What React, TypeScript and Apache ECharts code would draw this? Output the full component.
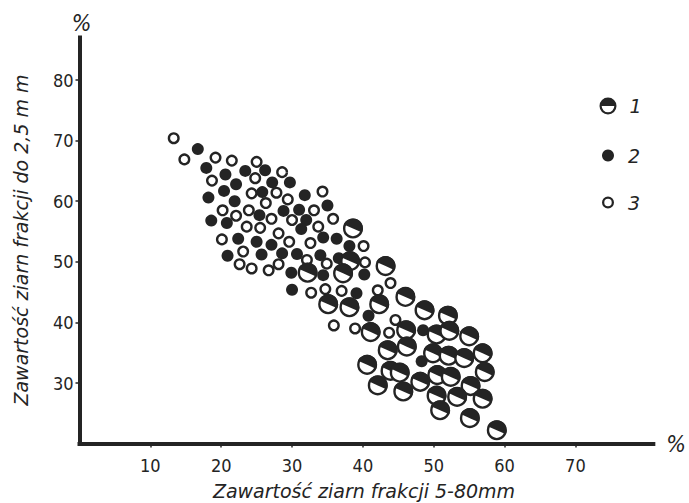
import React, { useEffect, useRef } from 'react';
import * as echarts from 'echarts';

// [x, y] pairs: x = share of 5-80 mm fraction (%), y = share of fraction up to 2.5 mm (%)
const type1Points: number[][] = [
  [38.6, 55.5], [38.2, 50.1], [32.2, 48.2], [37.2, 48.1], [43.2, 49.3], [46.0, 44.2],
  [35.1, 43.0], [38.1, 42.5], [42.3, 43.0], [48.7, 42.0], [52.0, 41.1], [41.1, 38.4],
  [46.1, 38.7], [50.4, 38.0], [52.2, 38.6], [55.0, 37.7], [43.5, 35.4], [46.2, 36.0],
  [49.9, 34.9], [52.1, 34.5], [54.3, 34.1], [56.9, 34.9], [40.6, 33.0], [43.9, 32.0],
  [45.2, 31.7], [48.1, 30.2], [50.5, 31.3], [52.4, 31.0], [57.2, 31.8], [42.1, 29.6],
  [45.7, 28.6], [55.2, 29.5], [50.4, 27.9], [53.3, 27.7], [56.9, 27.4], [50.9, 25.5],
  [55.1, 24.2], [58.9, 22.2],
];

const type2Points: number[][] = [
  [16.7, 68.6], [17.9, 65.5], [20.6, 64.4], [23.4, 65.0], [26.2, 65.1], [22.1, 62.8],
  [27.2, 63.1], [29.7, 63.1], [20.4, 61.7], [25.8, 61.5], [18.2, 60.6], [21.9, 60.0],
  [31.8, 61.0], [25.4, 57.7], [28.8, 58.4], [31.0, 58.6], [35.0, 59.3], [18.6, 56.8],
  [20.8, 56.4], [32.0, 56.9], [31.3, 55.4], [22.4, 53.8], [25.0, 53.3], [27.1, 52.8],
  [34.4, 54.0], [36.3, 53.8], [20.9, 51.0], [25.7, 51.2], [28.6, 51.4], [30.7, 51.3],
  [34.0, 51.1], [38.1, 52.6], [36.6, 50.6], [29.9, 48.2], [34.4, 47.8], [40.2, 47.9],
  [30.0, 45.4], [39.1, 44.8], [40.8, 41.1], [48.5, 38.7], [48.3, 33.6],
];

const type3Points: number[][] = [
  [13.3, 70.4], [14.8, 66.9], [19.2, 67.2], [21.5, 66.7], [25.0, 66.5], [28.6, 64.8],
  [18.7, 63.4], [24.8, 63.8], [24.3, 61.3], [27.8, 61.4], [26.3, 59.7], [29.4, 60.3],
  [34.3, 61.6], [20.2, 58.5], [23.9, 58.5], [22.1, 57.6], [33.1, 58.5], [23.6, 55.8],
  [25.5, 55.6], [27.1, 57.1], [30.0, 56.9], [33.7, 55.8], [35.8, 57.1], [20.1, 53.7],
  [28.1, 54.7], [29.6, 53.3], [32.6, 53.1], [40.1, 52.6], [23.1, 51.7], [32.1, 50.3],
  [22.6, 49.6], [24.3, 48.9], [26.7, 48.6], [28.1, 49.6], [34.9, 49.7], [40.3, 49.9],
  [32.7, 44.9], [34.7, 45.5], [37.0, 45.2], [42.1, 45.3], [43.9, 46.5], [44.6, 40.4],
  [35.9, 39.5], [38.9, 39.0], [43.7, 38.3],
];

const xTickValues = [10, 20, 30, 40, 50, 60, 70];
const yTickValues = [30, 40, 50, 60, 70, 80];
const seriesNames = ['1', '2', '3'];
const xTitle = 'Zawartość ziarn frakcji 5-80mm';
const yTitle = 'Zawartość ziarn frakcji do 2,5 m m';
const unitLabel = '%';

const INK = '#242424';
const NARROW = "'Liberation Sans Narrow', 'DejaVu Sans Condensed', sans-serif";
const ITALIC_FONT = "'DejaVu Sans', sans-serif";

const HALF_ICON =
  'path://M0,10 A10,10 0 1,1 20,10 A10,10 0 1,1 0,10 Z M2.6,10 A7.4,7.4 0 1,0 17.4,10 A7.4,7.4 0 1,0 2.6,10 Z M2.6,10 A7.4,7.4 0 0,1 17.4,10 Z';
const RING_ICON =
  'path://M0,10 A10,10 0 1,1 20,10 A10,10 0 1,1 0,10 Z M3.8,10 A6.2,6.2 0 1,0 16.2,10 A6.2,6.2 0 1,0 3.8,10 Z';

export default function App() {
  const ref = useRef<HTMLDivElement>(null);

  useEffect(() => {
    if (!ref.current) return;
    const chart = echarts.init(ref.current, null, { renderer: 'svg' });
    const tilt = 0.42;

    const option: any = {
      animation: false,
      backgroundColor: '#ffffff',
      grid: { left: 79.5, right: 22.25, top: 37.6, bottom: 59.4, containLabel: false },
      xAxis: {
        type: 'value',
        min: 0,
        max: 81,
        interval: 10,
        axisLine: { show: true, onZero: false, lineStyle: { color: INK, width: 4, cap: 'square' } },
        axisTick: { show: true, length: 4, customValues: xTickValues, lineStyle: { color: INK, width: 1.5 } },
        axisLabel: {
          customValues: xTickValues,
          formatter: (v: number) => (xTickValues.indexOf(v) >= 0 ? String(v) : ''),
          margin: 13,
          fontSize: 18,
          fontFamily: NARROW,
          color: INK,
        },
        splitLine: { show: false },
        name: unitLabel,
        nameLocation: 'end',
        nameGap: 13,
        nameTextStyle: { fontSize: 23, fontFamily: NARROW, color: INK, fontStyle: 'italic', padding: [6, 0, 0, 0] },
      },
      yAxis: {
        type: 'value',
        min: 20,
        max: 87,
        interval: 10,
        axisLine: { show: true, onZero: false, lineStyle: { color: INK, width: 4, cap: 'square' } },
        axisTick: { show: true, length: 4, customValues: yTickValues, lineStyle: { color: INK, width: 1.5 } },
        axisLabel: {
          customValues: yTickValues,
          formatter: (v: number) => (yTickValues.indexOf(v) >= 0 ? String(v) : ''),
          margin: 6,
          fontSize: 18,
          fontFamily: NARROW,
          color: INK,
        },
        splitLine: { show: false },
        name: unitLabel,
        nameLocation: 'end',
        nameGap: 3,
        nameTextStyle: { fontSize: 23, fontFamily: NARROW, color: INK, fontStyle: 'italic', padding: [0, 0, 0, 4] },
      },
      legend: [
        {
          data: [{ name: seriesNames[0], icon: HALF_ICON }],
          left: 599.5, top: 96.5, padding: 0, itemWidth: 17, itemHeight: 17,
          selectedMode: false,
          textStyle: { fontSize: 19, fontStyle: 'italic', fontFamily: ITALIC_FONT, color: INK, padding: [0, 0, 0, 8] },
        },
        {
          data: [{ name: seriesNames[1], icon: 'circle' }],
          left: 602, top: 146, padding: 0, itemWidth: 12, itemHeight: 12,
          selectedMode: false,
          textStyle: { fontSize: 19, fontStyle: 'italic', fontFamily: ITALIC_FONT, color: INK, padding: [0, 0, 0, 9] },
        },
        {
          data: [{ name: seriesNames[2], icon: RING_ICON, itemStyle: { color: INK, borderWidth: 0 } }],
          left: 602, top: 193, padding: 0, itemWidth: 12, itemHeight: 12,
          selectedMode: false,
          textStyle: { fontSize: 19, fontStyle: 'italic', fontFamily: ITALIC_FONT, color: INK, padding: [0, 0, 0, 9] },
        },
      ],
      graphic: [
        {
          type: 'text',
          x: 21,
          y: 240,
          rotation: Math.PI / 2,
          style: {
            text: yTitle,
            align: 'center',
            verticalAlign: 'middle',
            fontSize: 19,
            fontStyle: 'italic',
            fontFamily: ITALIC_FONT,
            fill: INK,
          },
        },
        {
          type: 'text',
          x: 364,
          y: 491,
          style: {
            text: xTitle,
            align: 'center',
            verticalAlign: 'middle',
            fontSize: 19,
            fontStyle: 'italic',
            fontFamily: ITALIC_FONT,
            fill: INK,
          },
        },
      ],
      series: [
        {
          name: seriesNames[1],
          type: 'scatter',
          data: type2Points,
          symbol: 'circle',
          symbolSize: 12,
          itemStyle: { color: INK, opacity: 1 },
          z: 2,
        },
        {
          name: seriesNames[2],
          type: 'scatter',
          data: type3Points,
          symbol: 'circle',
          symbolSize: 9.6,
          itemStyle: { color: '#ffffff', borderColor: INK, borderWidth: 2.4, opacity: 1 },
          z: 3,
        },
        {
          name: seriesNames[0],
          type: 'custom',
          coordinateSystem: 'cartesian2d',
          encode: { x: 0, y: 1 },
          data: type1Points,
          itemStyle: { color: INK },
          z: 4,
          renderItem: (params: any, api: any) => {
            const p = api.coord([api.value(0), api.value(1)]);
            const r = 8.8;
            return {
              type: 'group',
              children: [
                {
                  type: 'circle',
                  shape: { cx: p[0], cy: p[1], r },
                  style: { fill: '#ffffff', stroke: INK, lineWidth: 2.4 },
                },
                {
                  type: 'sector',
                  shape: {
                    cx: p[0], cy: p[1], r: r + 1.2, r0: 0,
                    startAngle: Math.PI + tilt, endAngle: 2 * Math.PI + tilt, clockwise: true,
                  },
                  style: { fill: INK },
                },
              ],
            };
          },
        },
      ],
    };

    chart.setOption(option);
    return () => chart.dispose();
  }, []);

  return <div ref={ref} style={{ position: 'absolute', left: 0, top: 0, width: 689, height: 503 }} />;
}
